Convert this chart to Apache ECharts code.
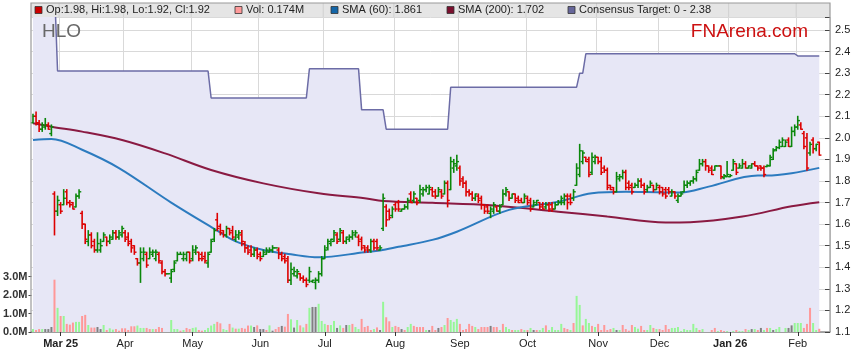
<!DOCTYPE html>
<html><head><meta charset="utf-8">
<script src="https://cdn.jsdelivr.net/npm/echarts@6/dist/echarts.min.js"></script>
<style>html,body{margin:0;padding:0;background:#fff}#c{width:859px;height:363px}</style>
</head><body><div id="c"></div>
<script>
// ---------- data ----------
const firstDay = '2025-02-18';
const lastDay = '2026-02-11';
const padSlots = 3; // empty slots at right edge of the plot
const monthNames = ['Jan','Feb','Mar','Apr','May','Jun','Jul','Aug','Sep','Oct','Nov','Dec'];

// daily [open, high, low, close]
const priceOHLC = [
[2.07,2.11,2.07,2.10],[2.10,2.12,2.06,2.07],[2.07,2.08,2.03,2.04],[2.04,2.07,2.03,2.06],[2.05,2.09,2.04,2.06],[2.06,2.07,2.04,2.04],[2.02,2.06,2.01,2.05],[1.74,1.75,1.55,1.66],[1.66,1.73,1.64,1.71],[1.69,1.70,1.65,1.66],
[1.69,1.76,1.69,1.72],[1.75,1.76,1.69,1.70],[1.70,1.71,1.68,1.69],[1.70,1.70,1.67,1.67],[1.68,1.74,1.68,1.73],[1.73,1.76,1.72,1.75],[1.65,1.66,1.58,1.60],[1.60,1.60,1.51,1.53],[1.52,1.57,1.50,1.55],[1.55,1.56,1.49,1.50],
[1.52,1.53,1.47,1.48],[1.48,1.56,1.47,1.51],[1.48,1.53,1.47,1.50],[1.52,1.56,1.52,1.55],[1.54,1.54,1.50,1.52],[1.52,1.55,1.51,1.54],[1.53,1.57,1.53,1.56],[1.56,1.57,1.53,1.54],[1.54,1.57,1.53,1.56],[1.55,1.59,1.54,1.58],
[1.56,1.57,1.52,1.53],[1.54,1.56,1.50,1.51],[1.52,1.53,1.47,1.49],[1.50,1.50,1.46,1.47],[1.44,1.44,1.41,1.42],[1.42,1.49,1.33,1.47],[1.44,1.49,1.43,1.47],[1.46,1.47,1.40,1.41],[1.44,1.49,1.44,1.47],[1.46,1.48,1.45,1.47],
[1.44,1.48,1.43,1.47],[1.46,1.47,1.42,1.43],[1.42,1.43,1.37,1.38],[1.38,1.39,1.36,1.37],[1.37,1.37,1.37,1.37],[1.35,1.39,1.33,1.38],[1.39,1.43,1.38,1.42],[1.43,1.47,1.43,1.46],[1.46,1.47,1.46,1.46],[1.44,1.47,1.43,1.46],
[1.44,1.47,1.43,1.47],[1.47,1.47,1.42,1.43],[1.44,1.50,1.43,1.48],[1.47,1.50,1.46,1.49],[1.47,1.47,1.43,1.44],[1.46,1.47,1.43,1.44],[1.45,1.47,1.42,1.43],[1.42,1.47,1.40,1.46],[1.47,1.53,1.47,1.52],[1.53,1.58,1.52,1.57],
[1.62,1.65,1.57,1.58],[1.59,1.60,1.55,1.56],[1.57,1.57,1.54,1.55],[1.55,1.59,1.54,1.58],[1.58,1.58,1.55,1.56],[1.57,1.59,1.53,1.54],[1.53,1.57,1.52,1.55],[1.54,1.57,1.53,1.56],[1.55,1.57,1.50,1.52],[1.51,1.52,1.47,1.49],
[1.49,1.50,1.46,1.47],[1.48,1.50,1.45,1.46],[1.46,1.49,1.45,1.48],[1.48,1.49,1.44,1.45],[1.46,1.47,1.43,1.44],[1.45,1.48,1.45,1.47],[1.46,1.49,1.46,1.48],[1.47,1.49,1.47,1.48],[1.48,1.50,1.47,1.49],[1.49,1.49,1.49,1.49],
[1.48,1.49,1.44,1.46],[1.46,1.47,1.43,1.44],[1.45,1.46,1.42,1.43],[1.44,1.45,1.33,1.34],[1.34,1.42,1.32,1.39],[1.37,1.40,1.36,1.38],[1.36,1.39,1.35,1.38],[1.37,1.37,1.34,1.35],[1.35,1.36,1.33,1.34],[1.34,1.35,1.31,1.32],
[1.34,1.40,1.33,1.38],[1.335,1.34,1.33,1.34],[1.33,1.35,1.30,1.34],[1.34,1.38,1.33,1.37],[1.37,1.45,1.36,1.44],[1.44,1.50,1.44,1.48],[1.49,1.53,1.48,1.52],[1.51,1.53,1.50,1.53],[1.52,1.57,1.52,1.56],[1.55,1.56,1.51,1.52],
[1.53,1.58,1.52,1.57],[1.56,1.57,1.51,1.52],[1.52,1.54,1.51,1.54],[1.53,1.55,1.52,1.54],[1.54,1.57,1.53,1.56],[1.55,1.57,1.54,1.56],[1.54,1.55,1.50,1.52],[1.53,1.54,1.48,1.49],[1.50,1.50,1.47,1.48],[1.49,1.50,1.47,1.48],
[1.48,1.53,1.47,1.52],[1.52,1.53,1.48,1.49],[1.52,1.53,1.48,1.49],[1.48,1.50,1.48,1.49],[1.58,1.74,1.57,1.72],[1.68,1.69,1.59,1.62],[1.66,1.67,1.62,1.63],[1.64,1.68,1.63,1.67],[1.69,1.70,1.66,1.67],[1.70,1.71,1.66,1.67],
[1.66,1.67,1.66,1.67],[1.67,1.69,1.67,1.68],[1.68,1.72,1.67,1.71],[1.74,1.75,1.70,1.70],[1.71,1.75,1.70,1.74],[1.72,1.72,1.69,1.70],[1.71,1.78,1.70,1.76],[1.74,1.77,1.73,1.76],[1.76,1.78,1.75,1.77],[1.74,1.78,1.74,1.77],
[1.76,1.77,1.73,1.73],[1.75,1.76,1.72,1.73],[1.73,1.77,1.73,1.76],[1.75,1.76,1.72,1.73],[1.74,1.80,1.74,1.79],[1.79,1.80,1.68,1.71],[1.76,1.91,1.76,1.89],[1.86,1.90,1.84,1.88],[1.87,1.92,1.85,1.89],[1.86,1.87,1.78,1.80],
[1.81,1.82,1.77,1.79],[1.79,1.80,1.73,1.75],[1.75,1.76,1.73,1.74],[1.74,1.75,1.71,1.72],[1.72,1.74,1.71,1.74],[1.73,1.74,1.70,1.71],[1.72,1.73,1.67,1.69],[1.69,1.69,1.65,1.66],[1.68,1.69,1.65,1.66],[1.65,1.68,1.63,1.67],
[1.66,1.70,1.65,1.69],[1.68,1.68,1.66,1.66],[1.66,1.69,1.65,1.68],[1.69,1.76,1.69,1.74],[1.74,1.77,1.73,1.76],[1.75,1.75,1.71,1.72],[1.72,1.74,1.72,1.74],[1.74,1.74,1.70,1.71],[1.72,1.73,1.70,1.70],[1.71,1.72,1.70,1.70],
[1.70,1.74,1.70,1.73],[1.72,1.73,1.69,1.70],[1.71,1.72,1.66,1.67],[1.68,1.71,1.68,1.70],[1.69,1.71,1.69,1.71],[1.70,1.70,1.67,1.68],[1.69,1.70,1.67,1.67],[1.68,1.70,1.67,1.69],[1.69,1.70,1.66,1.67],[1.69,1.70,1.66,1.67],
[1.67,1.70,1.67,1.69],[1.69,1.71,1.69,1.70],[1.70,1.73,1.69,1.72],[1.70,1.74,1.69,1.73],[1.73,1.74,1.67,1.70],[1.73,1.74,1.69,1.70],[1.72,1.76,1.71,1.75],[1.78,1.88,1.78,1.86],[1.83,1.97,1.82,1.94],[1.89,1.94,1.88,1.93],
[1.91,1.91,1.89,1.89],[1.90,1.91,1.82,1.83],[1.84,1.93,1.83,1.91],[1.89,1.92,1.88,1.91],[1.91,1.91,1.88,1.89],[1.89,1.91,1.83,1.84],[1.86,1.87,1.84,1.85],[1.85,1.86,1.76,1.77],[1.78,1.78,1.76,1.76],[1.77,1.77,1.74,1.75],
[1.75,1.84,1.75,1.82],[1.81,1.83,1.80,1.82],[1.82,1.85,1.81,1.84],[1.84,1.85,1.76,1.77],[1.79,1.80,1.76,1.77],[1.78,1.79,1.74,1.75],[1.77,1.79,1.77,1.78],[1.78,1.81,1.77,1.80],[1.80,1.81,1.77,1.78],[1.78,1.79,1.74,1.75],
[1.76,1.78,1.75,1.77],[1.77,1.80,1.77,1.79],[1.78,1.78,1.75,1.76],[1.76,1.79,1.76,1.78],[1.77,1.78,1.74,1.75],[1.77,1.77,1.73,1.74],[1.76,1.77,1.72,1.73],[1.76,1.77,1.74,1.75],[1.73,1.76,1.73,1.75],[1.75,1.75,1.72,1.73],
[1.71,1.74,1.70,1.73],[1.73,1.75,1.73,1.74],[1.75,1.80,1.75,1.78],[1.78,1.80,1.77,1.79],[1.79,1.80,1.78,1.80],[1.80,1.82,1.79,1.81],[1.81,1.85,1.80,1.84],[1.85,1.90,1.85,1.88],[1.88,1.90,1.87,1.89],[1.89,1.90,1.85,1.87],
[1.87,1.87,1.84,1.85],[1.86,1.87,1.83,1.83],[1.85,1.87,1.85,1.87],[1.87,1.87,1.87,1.87],[1.87,1.87,1.81,1.82],[1.815,1.83,1.81,1.825],[1.82,1.89,1.82,1.83],[1.82,1.83,1.82,1.825],[1.85,1.90,1.85,1.89],[1.88,1.88,1.83,1.84],
[1.86,1.88,1.86,1.87],[1.86,1.90,1.86,1.88],[1.88,1.89,1.86,1.86],[1.86,1.87,1.86,1.87],[1.86,1.88,1.86,1.88],[1.88,1.89,1.87,1.87],[1.87,1.87,1.85,1.86],[1.87,1.87,1.85,1.86],[1.86,1.87,1.82,1.83],[1.867,1.874,1.866,1.872],
[1.87,1.92,1.87,1.91],[1.90,1.95,1.90,1.94],[1.945,1.96,1.94,1.955],[1.955,1.99,1.95,1.98],[1.96,2.00,1.96,1.99],[1.96,1.99,1.96,1.98],[1.99,2.00,1.96,1.96],[1.96,2.05,1.96,2.03],[2.03,2.06,2.01,2.05],[2.05,2.10,2.04,2.08],
[2.06,2.07,2.04,2.04],[2.02,2.03,1.95,1.96],[2.00,2.02,1.85,1.86],[1.93,1.98,1.92,1.97],[1.99,2.00,1.93,1.95],[1.95,1.97,1.94,1.97],[1.98,1.98,1.92,1.92]
];

// daily volume, millions
const volumeM = [
.16,.11,.16,.16,.16,.16,.27,2.84,1.31,.87, .87,.44,.40,.51,.55,.55,.87,.93,.38,.24,
.24,.27,.16,.38,.11,.20,.13,.16,.07,.20, .20,.11,.31,.31,.35,.22,.22,.22,.16,.16,
.16,.27,.22,0,0,.65,.16,.16,.07,.11, .22,.16,.22,.25,.11,.07,.11,.22,.35,.44,
.55,.47,.16,.11,.44,.24,.18,.18,.22,.18, .35,.35,.27,.36,.16,.16,.11,.36,.07,.16,
.27,.33,.29,.98,.69,.24,.65,
.36,.25,.44,1.31,1.36,1.36,1.53,.60,.44,.38, .38,.60,.22,.36,.22,.38,.38,.44,.27,.16,
.71,.27,.33,.11,.16,.25,.11,1.64,.80,.58, .27,.33,.27,.16,.11,.27,.44,.33,.27,.27,
.27,.11,.11,.33,.11,.22,.27,.38,.76,.65, .55,.71,.44,.11,.16,.44,.33,.27,.16,.27,
.27,.27,.33,.27,.27,.11,.44,.27,.16,.11, .11,.11,.16,.11,.11,.22,.11,.11,.11,.22,
.36,.11,.27,.11,.11,.44,.22,.16,.11,.49, 1.96,1.47,.36,.71,.49,.33,.27,.44,
.11,.38,.11,.16,.22,.11,.11,.38,.16,.07, .38,.27,.18,.33,.11,.11,.38,.22,.16,.16,
.11,.38,.16,.22,.22,.27,.05,.16,.11,.11, .44,.22,.11,.16,0,0,.11,.22,.05,.11,
.05,.05,0,.05,.11,.05,.05,.16,.11,.16, .16,.11,.22,.11,.22,.22,.11,.16,.27,0,
.22,.22,.36,.49,.49,.49,.22,.44,1.31,.49, .11,.174
];
// volume bar colour per day: g = up, r = down, n = unchanged
const volumeDir =
'grrgnnnrgr'+'grrrggrrgr'+'rnngrggrrr'+'rrrrgggrrg'+'rrrnngggrg'+'rrggrrgggg'+'rrggrgrgrr'+'rgnrnnrgnr'+'rnrrgng'+
'rgrgnngggr'+'ggngrngrgg'+'rrrrgrngrr'+'grrnrggrrr'+'rgnrrnrgrg'+'ggrrrrrgrr'+'rrnrrgrggr'+'ggrgrgnrgg'+'rgggggrrgr'+'ggrggrgr'+
'rrrrgngrrr'+'rggrrggrgr'+'rrrggggggg'+'ggrgnnrrgr'+'rgngrggrgn'+'grngrgnggn'+'gnngggrrrg'+'gr';

// moving averages at [day index, value]
const sma60Pts = [[0,1.99],[6,1.995],[16,1.945],[28,1.86],[45,1.70],[60,1.57],[66,1.52],[75,1.48],[84,1.46],[93,1.446],[108,1.47],[113,1.478],[119,1.495],[130,1.527],[138,1.565],[155,1.666],[171,1.704],[182,1.743],[193,1.75],[203,1.748],[211,1.747],[220,1.774],[236,1.825],[239,1.825],[247,1.836],[256,1.861]];
const sma200Pts = [[0,2.068],[6,2.052],[16,2.029],[29,1.99],[43,1.928],[58,1.851],[75,1.789],[93,1.743],[108,1.72],[114,1.707],[130,1.699],[149,1.688],[171,1.658],[187,1.635],[206,1.608],[214,1.609],[231,1.635],[247,1.683],[256,1.702]];
// consensus target: [first day index, level] (held until next change)
const targetSteps = [[0,2.70],[8,2.31],[58,2.185],[90,2.32],[107,2.13],[115,2.04],[136,2.235],[178,2.30],[180,2.39],[249,2.38]];

const priceTickStep = 0.1;
const volumeTicks = [0,1,2,3];

const legendItems = [
  {color:'#cc0000', text:'Op:1.98, Hi:1.98, Lo:1.92, Cl:1.92', x:35},
  {color:'#ff9a9a', text:'Vol: 0.174M', x:235},
  {color:'#1466a8', text:'SMA (60): 1.861', x:331},
  {color:'#7a0f2e', text:'SMA (200): 1.702', x:447},
  {color:'#66669a', text:'Consensus Target: 0 - 2.38', x:568}
];

// ---------- build ----------
function weekdays(a, b){
  const out = [];
  const d = new Date(a + 'T00:00:00Z'), end = new Date(b + 'T00:00:00Z');
  while (d <= end){
    const w = d.getUTCDay();
    if (w !== 0 && w !== 6) out.push(d.toISOString().slice(0,10));
    d.setUTCDate(d.getUTCDate() + 1);
  }
  return out;
}
const dates = weekdays(firstDay, lastDay);
const categories = dates.concat(Array(padSlots).fill(''));
const monthStart = new Set();
for (let i = 1; i < dates.length; i++) if (dates[i].slice(5,7) !== dates[i-1].slice(5,7)) monthStart.add(i);
const firstLabel = Math.min(...monthStart);

const targetData = [];
for (let k = 0; k < targetSteps.length; k++){
  const end = k + 1 < targetSteps.length ? targetSteps[k+1][0] : dates.length;
  for (let i = targetSteps[k][0]; i < end; i++) targetData.push([i, targetSteps[k][1]]);
}
const dirColor = {g:'#96f796', r:'#ff9898', n:'#808080'};
const volData = volumeM.map((v,i) => ({value:[i, v], itemStyle:{color: dirColor[volumeDir[i]]}}));
const ohlcData = priceOHLC.map((d,i) => [i, d[0], d[1], d[2], d[3]]);

const FONT = '"Liberation Sans", Arial, sans-serif';
const chart = echarts.init(document.getElementById('c'), null, {renderer:'canvas'});

const frameGraphics = [
  {type:'rect', shape:{x:31, y:3, width:799, height:14}, style:{fill:'#e5e5e5'}, z:100},
  {type:'polyline', shape:{points:[[31,332],[31,3],[830,3],[830,332]]}, style:{stroke:'#9a9a9a', lineWidth:1.2, fill:null}, z:105},
  {type:'text', x:42, y:22, style:{text:'HLO', font:'19px ' + FONT, fill:'#686868'}, z:110},
  {type:'text', x:808, y:22, style:{text:'FNArena.com', font:'19px ' + FONT, fill:'#cc1111', align:'right'}, z:110}
];
legendItems.forEach(it => {
  frameGraphics.push({type:'rect', shape:{x:it.x, y:6.5, width:7, height:7}, style:{fill:it.color, stroke:'#333', lineWidth:0.8}, z:110});
  frameGraphics.push({type:'text', x:it.x + 11, y:10, style:{text:it.text, font:'11px ' + FONT, fill:'#222', verticalAlign:'middle'}, z:110});
});

const option = {
  animation:false,
  backgroundColor:'#ffffff',
  textStyle:{fontFamily:FONT},
  grid:{left:31, right:29, top:17, bottom:31, containLabel:false},
  xAxis:{
    type:'category', data:categories, boundaryGap:true,
    axisLine:{show:true, lineStyle:{color:'#8a8a8a', width:1.5}},
    axisTick:{show:true, alignWithLabel:true, length:4, interval:(i)=>monthStart.has(i), lineStyle:{color:'#333'}},
    axisLabel:{
      interval:(i)=>monthStart.has(i), margin:6, fontSize:11, color:'#222', fontFamily:FONT,
      formatter:(v, i) => {
        if (!v) return '';
        const m = +v.slice(5,7) - 1;
        if (m === 0 || i === firstLabel) return '{b|' + monthNames[m] + ' ' + v.slice(2,4) + '}';
        return monthNames[m];
      },
      rich:{b:{fontWeight:'bold', fontSize:11, fontFamily:FONT, color:'#222'}}
    },
    splitLine:{show:true, interval:(i)=>monthStart.has(i), lineStyle:{color:'#d9d9d9', width:1}}
  },
  yAxis:[
    {
      type:'value', position:'right', min:1.1, max:1.1 + 315/215.7, interval:priceTickStep,
      axisLine:{show:false},
      axisTick:{show:true, inside:true, length:5, lineStyle:{color:'#444'}},
      axisLabel:{margin:5, fontSize:11, color:'#222', fontFamily:FONT, formatter:(v)=> v > 2.55 ? '' : v.toFixed(1)},
      splitLine:{show:true, lineStyle:{color:'#d9d9d9', width:1}}
    },
    {
      type:'value', position:'left', min:0, max:17.1, interval:1,
      axisLine:{show:false},
      axisTick:{show:true, length:3, customValues:volumeTicks, lineStyle:{color:'#444'}},
      axisLabel:{customValues:volumeTicks, margin:4, fontSize:11, fontWeight:'bold', color:'#333', fontFamily:FONT, formatter:(v)=> v > 3.5 ? '' : v.toFixed(1) + 'M'},
      splitLine:{show:false}
    }
  ],
  series:[
    {
      name:'Consensus Target', type:'line', data:targetData, yAxisIndex:0, z:1,
      symbol:'none', lineStyle:{color:'#6c6ca6', width:1.5},
      areaStyle:{color:'#e7e7f6', opacity:1, origin:'start'}
    },
    {
      name:'Vol', type:'bar', data:volData, yAxisIndex:1, barWidth:2, z:3,
      animation:false
    },
    {
      name:'SMA (200)', type:'line', data:sma200Pts, yAxisIndex:0, z:4, smooth:0.35,
      symbol:'none', lineStyle:{color:'#8a1a42', width:2}
    },
    {
      name:'SMA (60)', type:'line', data:sma60Pts, yAxisIndex:0, z:4, smooth:0.35,
      symbol:'none', lineStyle:{color:'#2c7bbf', width:2}
    },
    {
      name:'Price', type:'custom', yAxisIndex:0, z:5, data:ohlcData,
      encode:{x:0, y:[1,2,3,4]},
      renderItem:(params, api) => {
        const i = api.value(0), o = api.value(1), h = api.value(2), l = api.value(3), c = api.value(4);
        const pH = api.coord([i, h]), pL = api.coord([i, l]), pO = api.coord([i, o]), pC = api.coord([i, c]);
        const x = pH[0];
        const col = c >= o ? '#0a870a' : '#dd0000';
        return {type:'group', children:[
          {type:'line', shape:{x1:x, y1:pH[1] - 0.5, x2:x, y2:pL[1] + 0.5}, style:{stroke:col, lineWidth:1.6}},
          {type:'line', shape:{x1:x - 2.2, y1:pO[1], x2:x, y2:pO[1]}, style:{stroke:col, lineWidth:1.4}},
          {type:'line', shape:{x1:x, y1:pC[1], x2:x + 2.2, y2:pC[1]}, style:{stroke:col, lineWidth:1.4}}
        ]};
      }
    }
  ],
  graphic:frameGraphics
};
chart.setOption(option);

// month grid lines continue through the legend strip
const bw = 799 / categories.length;
const stripLines = [];
monthStart.forEach(i => {
  const px = chart.convertToPixel({xAxisIndex:0}, i) - bw / 2;
  stripLines.push({type:'line', shape:{x1:px, y1:3, x2:px, y2:17}, style:{stroke:'#d0d0d0', lineWidth:1}, z:101});
});
chart.setOption({graphic:frameGraphics.concat(stripLines)});
</script>
</body></html>
